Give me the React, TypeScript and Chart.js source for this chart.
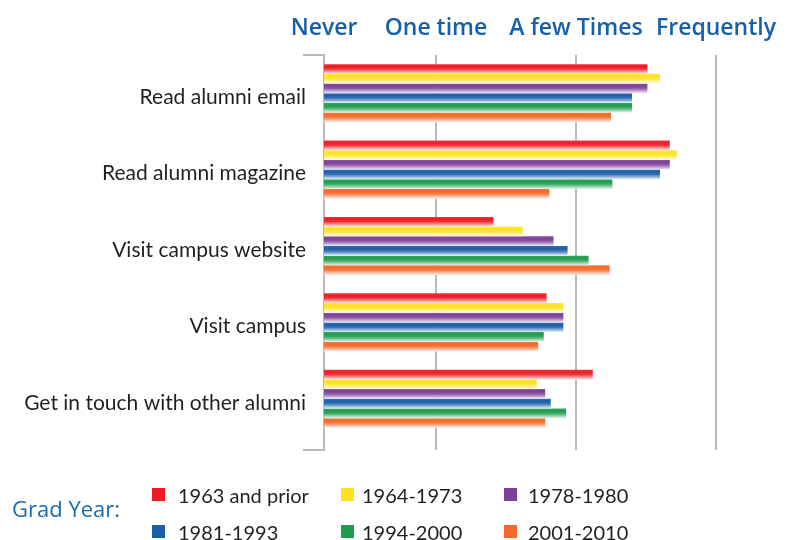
import React, { useEffect, useRef } from "react";
import { Chart, registerables } from "chart.js";

Chart.register(...registerables);

const categories = [
  "Read alumni email",
  "Read alumni magazine",
  "Visit campus website",
  "Visit campus",
  "Get in touch with other alumni",
];

const seriesNames = ["1963 and prior", "1964-1973", "1978-1980", "1981-1993", "1994-2000", "2001-2010"];
const seriesColors = ["#ed1c24", "#ffe21f", "#7d4199", "#1b5fab", "#1f9d4c", "#f36a2a"];

// values per series, in category order (1 = Never, 2 = One time, 3 = A few Times, 4 = Frequently)
const s1963 = [3.51, 3.67, 2.41, 2.79, 3.12];
const s1964 = [3.6, 3.72, 2.62, 2.91, 2.72];
const s1978 = [3.51, 3.67, 2.84, 2.91, 2.78];
const s1981 = [3.4, 3.6, 2.94, 2.91, 2.82];
const s1994 = [3.4, 3.26, 3.09, 2.77, 2.93];
const s2001 = [3.25, 2.81, 3.24, 2.73, 2.78];
const seriesValues = [s1963, s1964, s1978, s1981, s1994, s2001];

const tickValues = [1.2, 2, 3, 4];
const tickLabels = ["Never", "One time", "A few Times", "Frequently"];

const CAT_PCT = 0.76;
const BAR_PCT = 1;

function hexToRgb(hex: string) {
  const n = parseInt(hex.slice(1), 16);
  return [(n >> 16) & 255, (n >> 8) & 255, n & 255];
}
function mix(hex: string, t: number) {
  const [r, g, b] = hexToRgb(hex);
  const m = (c: number) => Math.round(c + (255 - c) * t);
  return `rgb(${m(r)},${m(g)},${m(b)})`;
}

function gradientFor(color: string) {
  return (ctx: any) => {
    const chart = ctx.chart;
    const y = chart.scales && chart.scales.y;
    if (!y || ctx.type !== "data" || !isFinite(y.top)) return color;
    const center = y.getPixelForValue(ctx.dataIndex);
    const cat = (y.bottom - y.top) / categories.length;
    const group = cat * CAT_PCT;
    const chunk = group / seriesValues.length;
    const top = center - group / 2 + ctx.datasetIndex * chunk + (chunk * (1 - BAR_PCT)) / 2;
    const h = chunk * BAR_PCT;
    if (!isFinite(top) || !isFinite(h)) return color;
    const g = chart.ctx.createLinearGradient(0, top, 0, top + h);
    g.addColorStop(0, mix(color, 0.1));
    g.addColorStop(0.25, color);
    g.addColorStop(0.5, mix(color, 0.12));
    g.addColorStop(1, mix(color, 0.9));
    return g;
  };
}

const AXIS_GREY = "#bababa";

const bracketPlugin = {
  id: "bracket",
  afterDatasetsDraw(chart: any) {
    const { left, top, bottom } = chart.chartArea;
    const c = chart.ctx;
    const x = chart.scales.x;
    c.save();
    c.strokeStyle = AXIS_GREY;
    c.lineWidth = 2;
    c.beginPath();
    c.moveTo(left - 21, top);
    c.lineTo(left + 1, top);
    c.moveTo(left, bottom);
    c.lineTo(left, bottom + 13);
    c.lineTo(left - 21, bottom + 13);
    tickValues.slice(1).forEach((v) => {
      const px = x.getPixelForValue(v);
      c.moveTo(px, bottom);
      c.lineTo(px, bottom + 13);
    });
    c.stroke();
    c.restore();
  },
};

const legendSquareLeft = [152, 341, 504];
const legendTextLeft = [178, 362, 528];
const legendRowCenter = [495, 532];

export default function App() {
  const ref = useRef<HTMLCanvasElement>(null);

  useEffect(() => {
    if (!ref.current) return;
    const chart = new Chart(ref.current, {
      type: "bar",
      data: {
        labels: categories,
        datasets: seriesNames.map((name, i) => ({
          label: name,
          data: seriesValues[i],
          backgroundColor: gradientFor(seriesColors[i]),
          borderWidth: 0,
          categoryPercentage: CAT_PCT,
          barPercentage: BAR_PCT,
        })),
      },
      options: {
        indexAxis: "y",
        animation: false,
        responsive: true,
        maintainAspectRatio: false,
        layout: { padding: { top: 0, left: 0, right: 71, bottom: 103 } },
        plugins: { legend: { display: false }, tooltip: { enabled: false } },
        scales: {
          x: {
            position: "top",
            min: 1.2,
            max: 4,
            afterBuildTicks: (s: any) => {
              s.ticks = tickValues.map((v) => ({ value: v }));
            },
            afterFit: (s: any) => {
              s.height = 55;
            },
            grid: { color: AXIS_GREY, lineWidth: 2, drawTicks: false },
            border: { display: false },
            ticks: {
              padding: 13,
              color: "#1560a8",
              font: { family: "'Open Sans'", size: 23, weight: "600" },
              callback: (_v: any, i: number) => tickLabels[i],
              maxRotation: 0,
              autoSkip: false,
            },
          },
          y: {
            afterFit: (s: any) => {
              s.width = 324;
            },
            grid: { display: false },
            border: { display: true, color: AXIS_GREY, width: 2 },
            ticks: {
              padding: 10,
              labelOffset: 4,
              color: "#231f20",
              font: { family: "Lato", size: 21 },
            },
          },
        },
      },
      plugins: [bracketPlugin],
    });
    return () => chart.destroy();
  }, []);

  return (
    <div style={{ position: "absolute", left: 0, top: 0, width: 789, height: 540, background: "#fff", overflow: "hidden" }}>
      <canvas ref={ref} style={{ position: "absolute", left: 0, top: 0 }} />
      <div
        style={{
          position: "absolute",
          left: 12,
          top: 508 - 16,
          height: 32,
          lineHeight: "32px",
          fontFamily: "'Open Sans'",
          fontSize: 22,
          color: "#1a6bb0",
          whiteSpace: "nowrap",
        }}
      >
        Grad Year:
      </div>
      {seriesNames.map((name, i) => {
        const col = i % 3;
        const row = Math.floor(i / 3);
        const cy = legendRowCenter[row];
        return (
          <React.Fragment key={name}>
            <span
              style={{
                position: "absolute",
                left: legendSquareLeft[col],
                top: cy - 7,
                width: 13,
                height: 13,
                background: seriesColors[i],
              }}
            />
            <span
              style={{
                position: "absolute",
                left: legendTextLeft[col],
                top: cy - 14,
                height: 28,
                lineHeight: "28px",
                fontFamily: "Lato",
                fontSize: 20,
                color: "#231f20",
                whiteSpace: "nowrap",
              }}
            >
              {name}
            </span>
          </React.Fragment>
        );
      })}
    </div>
  );
}
